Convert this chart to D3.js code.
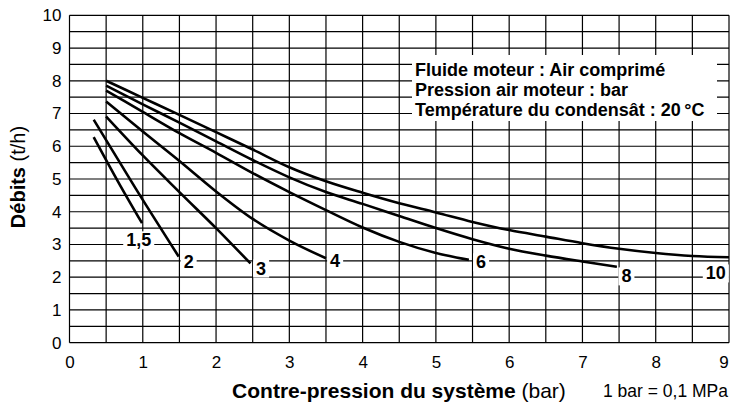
<!DOCTYPE html>
<html>
<head>
<meta charset="utf-8">
<script src="https://cdn.jsdelivr.net/npm/d3@7/dist/d3.min.js"></script>
<style>
body { margin: 0; background: #fff; }
svg { display: block; font-family: "Liberation Sans", Arial, Helvetica, sans-serif; }
</style>
</head>
<body>
<svg id="chart" width="730" height="405"></svg>
<script>
var xTicks = [0, 1, 2, 3, 4, 5, 6, 7, 8, 9];
var yTicks = [0, 1, 2, 3, 4, 5, 6, 7, 8, 9, 10];

// courbes par pression d'air moteur (bar) : [contre-pression, débit]
var curve15 = [[0.33, 6.28], [0.66, 4.93], [0.99, 3.65]];
var curve2 = [[0.33, 6.81], [0.9, 4.72], [1.49, 2.63]];
var curve3 = [[0.5, 6.91], [1, 5.72], [1.5, 4.6], [2, 3.5], [2.47, 2.42]];
var curve4 = [[0.5, 7.37], [1, 6.45], [1.5, 5.55], [2, 4.62], [2.5, 3.78], [3, 3.12], [3.5, 2.58]];
var curve6 = [[0.5, 7.7], [1, 7.05], [1.5, 6.4], [2, 5.8], [2.5, 5.18], [3, 4.6], [3.5, 4.05],
              [4, 3.52], [4.5, 3.08], [5, 2.74], [5.45, 2.53]];
var curve8 = [[0.5, 7.85], [1, 7.28], [1.5, 6.72], [2, 6.15], [2.5, 5.58], [3, 5.05], [3.5, 4.6],
              [4, 4.24], [4.5, 3.87], [5, 3.5], [5.5, 3.16], [6, 2.87], [6.5, 2.66], [7, 2.48], [7.47, 2.32]];
var curve10 = [[0.5, 8.0], [1, 7.48], [1.5, 6.96], [2, 6.43], [2.5, 5.9], [3, 5.36], [3.5, 4.93],
               [4, 4.58], [4.5, 4.26], [5, 3.98], [5.5, 3.69], [6, 3.44], [6.5, 3.24], [7, 3.04],
               [7.5, 2.87], [8, 2.74], [8.5, 2.65], [9, 2.61]];

var curveNames = ["1,5", "2", "3", "4", "6", "8", "10"];
var labelX = [0.945, 1.626, 2.615, 3.625, 5.617, 7.6, 8.82];
var labelY = [3.14, 2.48, 2.28, 2.51, 2.47, 2.04, 2.13];

var legendLines = ["Fluide moteur : Air comprimé", "Pression air moteur : bar", "Température du condensât : 20\u2009°C"];

var curves = [curve15, curve2, curve3, curve4, curve6, curve8, curve10];

var svg = d3.select("#chart");

var x = d3.scaleLinear().domain([0, 9]).range([69.5, 729]);
var y = d3.scaleLinear().domain([0, 10]).range([342.7, 15.3]);

// grille (pas de 0,5)
var grid = svg.append("g");
grid.selectAll("line.v")
    .data(d3.range(0, 9.01, 0.5))
    .enter().append("line")
    .attr("x1", function(d) { return x(d); })
    .attr("x2", function(d) { return x(d); })
    .attr("y1", y(0))
    .attr("y2", y(10))
    .attr("stroke", "#000")
    .attr("stroke-width", 1.2);
grid.selectAll("line.h")
    .data(d3.range(0, 10.01, 0.5))
    .enter().append("line")
    .attr("x1", x(0))
    .attr("x2", x(9))
    .attr("y1", function(d) { return y(d); })
    .attr("y2", function(d) { return y(d); })
    .attr("stroke", "#000")
    .attr("stroke-width", 1.2);

// axes
var xAxis = svg.append("g")
    .attr("transform", "translate(0," + y(0) + ")")
    .call(d3.axisBottom(x).tickValues(xTicks).tickSize(0).tickPadding(13));
var yAxis = svg.append("g")
    .attr("transform", "translate(" + x(0) + ",0)")
    .call(d3.axisLeft(y).tickValues(yTicks).tickSize(0).tickPadding(8));
[xAxis, yAxis].forEach(function(a) {
    a.select(".domain").remove();
    a.selectAll("text")
        .attr("font-size", 17)
        .attr("font-family", "Liberation Sans, Arial, sans-serif")
        .attr("fill", "#000");
});
// le dernier libellé touche le bord droit
xAxis.selectAll(".tick text")
    .filter(function(d) { return d === 9; })
    .attr("text-anchor", "end")
    .attr("dx", "-0.05em");

// cadre de la légende
var legend = svg.append("g");
legend.append("rect")
    .attr("x", 412).attr("y", 55)
    .attr("width", 305).attr("height", 66)
    .attr("fill", "#fff");
legend.selectAll("text")
    .data(legendLines)
    .enter().append("text")
    .attr("x", 415)
    .attr("y", function(d, i) { return 76 + i * 20.2; })
    .attr("font-size", 18)
    .attr("font-weight", "bold")
    .text(function(d) { return d; });

// étiquettes des courbes (fond blanc)
var labels = svg.append("g");
curveNames.forEach(function(name, i) {
    var g = labels.append("g");
    var t = g.append("text")
        .attr("x", x(labelX[i]))
        .attr("y", y(labelY[i]))
        .attr("dy", "0.36em")
        .attr("text-anchor", "middle")
        .attr("font-size", 18)
        .attr("font-weight", "bold")
        .text(name);
    var bb = t.node().getBBox();
    g.insert("rect", "text")
        .attr("x", bb.x - 3)
        .attr("y", bb.y + 1)
        .attr("width", bb.width + 6)
        .attr("height", bb.height - 2)
        .attr("fill", "#fff");
});

var line = d3.line()
    .x(function(d) { return x(d[0]); })
    .y(function(d) { return y(d[1]); })
    .curve(d3.curveMonotoneX);

svg.append("g").selectAll("path")
    .data(curves)
    .enter().append("path")
    .attr("d", line)
    .attr("fill", "none")
    .attr("stroke", "#000")
    .attr("stroke-width", 2.6);

// titres des axes
var yTitle = svg.append("text")
    .attr("transform", "translate(25,177) rotate(-90)")
    .attr("text-anchor", "middle")
    .attr("font-size", 20);
yTitle.append("tspan").attr("font-weight", "bold").text("Débits");
yTitle.append("tspan").text(" (t/h)");

var xTitle = svg.append("text")
    .attr("x", 399)
    .attr("y", 398)
    .attr("text-anchor", "middle")
    .attr("font-size", 21);
xTitle.append("tspan").attr("font-weight", "bold").text("Contre-pression du système");
xTitle.append("tspan").text(" (bar)");

svg.append("text")
    .attr("x", 603)
    .attr("y", 396.5)
    .attr("font-size", 17.5)
    .text("1 bar = 0,1 MPa");
</script>
</body>
</html>
